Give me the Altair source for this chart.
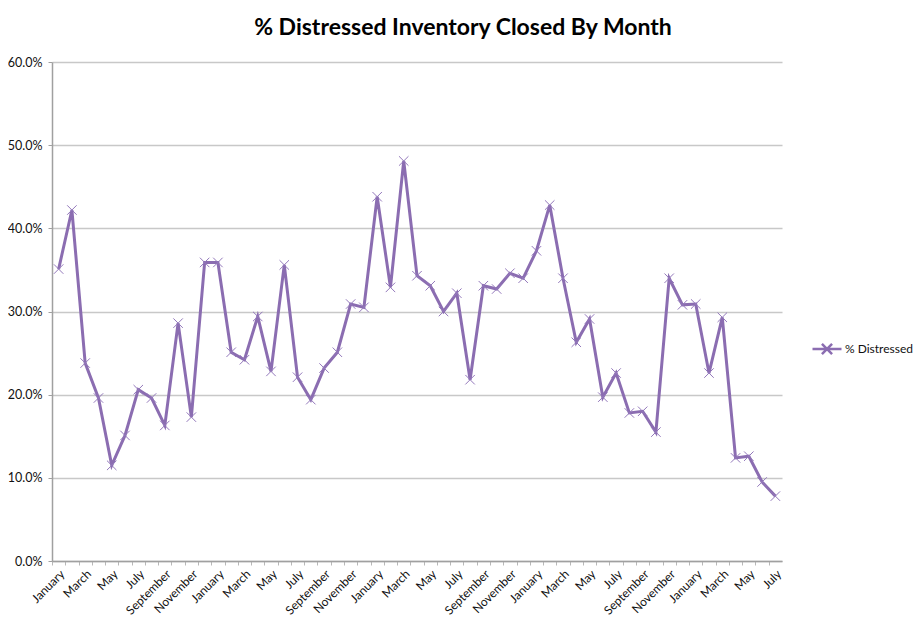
import json
import altair as alt
import pandas as pd

MONTHS = ["January", "February", "March", "April", "May", "June", "July",
          "August", "September", "October", "November", "December"]

# % distressed, Jan of year 1 through Jul of year 5
values = [35.1, 42.2, 23.8, 19.6, 11.5, 15.1, 20.6, 19.6, 16.3, 28.6, 17.3, 35.9,
          35.9, 25.1, 24.2, 29.4, 22.8, 35.6, 22.1, 19.4, 23.2, 25.1, 30.9, 30.5,
          43.8, 32.9, 48.1, 34.3, 33.1, 30.0, 32.2, 21.8, 33.1, 32.7, 34.6, 34.0,
          37.3, 42.8, 34.0, 26.3, 29.1, 19.7, 22.6, 17.8, 18.0, 15.5, 34.0, 30.8,
          30.9, 22.6, 29.3, 12.4, 12.6, 9.5, 7.8]

labels = [MONTHS[i % 12] for i in range(len(values))]
y_ticks = [0.0, 0.1, 0.2, 0.3, 0.4, 0.5, 0.6]

df = pd.DataFrame({
    "idx": list(range(len(values))),
    "month": labels,
    "pct": [v / 100 for v in values],
    "series": "% Distressed",
})

PURPLE = "#8b6db1"
W, H = 730, 499
step = W / len(values)
label_js = json.dumps(labels)

x = alt.X(
    "idx:O",
    scale=alt.Scale(type="point", padding=0.5),
    axis=alt.Axis(
        title=None, grid=False, labelAngle=315, labelAlign="right", labelBaseline="top",
        labelExpr=f"datum.value % 2 == 0 ? {label_js}[datum.value] : ''",
        labelOverlap=False, labelFont="Lato", labelFontSize=12, labelColor="#111",
        labelPadding=3, domainColor="#a0a0a0", domainWidth=1.5, tickColor="#b8b8b8",
        tickSize=4, tickOffset=-step / 2, labelOffset=step / 2,
    ),
)
y = alt.Y(
    "pct:Q",
    scale=alt.Scale(domain=[0, 0.6], nice=False, zero=True),
    axis=alt.Axis(
        title=None, format=".1%", values=y_ticks, gridColor="#c8c8c8", gridWidth=1.5,
        domainColor="#a0a0a0", domainWidth=1.5, tickColor="#a0a0a0", tickSize=4,
        labelPadding=6, labelFont="Lato", labelFontSize=12.5, labelColor="#111",
    ),
)

line = alt.Chart(df).mark_line(strokeWidth=3).encode(
    x=x, y=y,
    color=alt.Color(
        "series:N",
        scale=alt.Scale(range=[PURPLE]),
        legend=alt.Legend(
            title=None, orient="none", legendX=759, legendY=271, padding=0,
            symbolType="M-1,0L1,0M-0.35,-0.35L0.35,0.35M-0.35,0.35L0.35,-0.35",
            symbolSize=841, symbolStrokeWidth=2.5, labelFont="Lato",
            labelFontSize=12, labelColor="#111", labelOffset=2, labelLimit=200,
        ),
    ),
)
points = alt.Chart(df).mark_point(
    shape="M-1,-1L1,1M-1,1L1,-1", size=90, filled=False, strokeWidth=1,
    color="#9378bb", opacity=1,
).encode(x=x, y=y)

chart = alt.layer(line, points).properties(
    width=W, height=H,
    background="white",
    autosize=alt.AutoSizeParams(type="none"),
    padding={"left": 44, "top": 54, "right": 133, "bottom": 62},
    title=alt.TitleParams(
        "% Distressed Inventory Closed By Month", font="Lato", fontSize=23,
        fontWeight="bold", color="#000", dx=46, offset=16, anchor="middle",
    ),
).configure_view(stroke=None)

chart.save("out.html", embed_options={"renderer": "svg", "actions": False})
